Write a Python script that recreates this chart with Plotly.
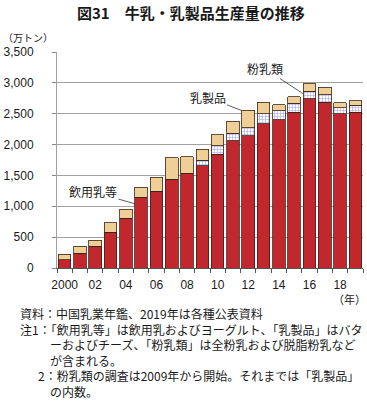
import plotly.graph_objects as go

years = list(range(2000, 2020))
drink = [134, 242, 355, 581, 806, 1150, 1242, 1435, 1532, 1655, 1845, 2065, 2139, 2339, 2403, 2521, 2742, 2688, 2500, 2526]
powder = [0, 0, 0, 0, 0, 0, 0, 0, 0, 92, 135, 122, 135, 161, 145, 150, 123, 123, 97, 108]
products = [92, 113, 97, 150, 146, 161, 231, 355, 274, 177, 181, 194, 279, 188, 97, 103, 119, 118, 80, 76]
tick_years = [2000, 2002, 2004, 2006, 2008, 2010, 2012, 2014, 2016, 2018]
tick_text = ["2000", "02", "04", "06", "08", "10", "12", "14", "16", "18"]
y_ticks = [0, 500, 1000, 1500, 2000, 2500, 3000, 3500]
notes = [
    "資料：中国乳業年鑑、2019年は各種公表資料",
    "注1：「飲用乳等」は飲用乳およびヨーグルト、「乳製品」はバタ",
    "　　\u2002ーおよびチーズ、「粉乳類」は全粉乳および脱脂粉乳など",
    "　　\u2002が含まれる。",
    "　\u20022：粉乳類の調査は2009年から開始。それまでは「乳製品」",
    "　　\u2002の内数。",
]

W, H = 367, 401
L, R, T, B = 53, 4, 52, 133
PW, PH = W - L - R, H - T - B

def px(x):
    return (x - L) / PW

def py(y):
    return (H - B - y) / PH

FONT = "Liberation Sans, Arial, Noto Sans CJK JP, sans-serif"
JFONT = "Noto Sans CJK JP, sans-serif"
TXT = "#1a1a1a"
LINE = dict(color="#3a2418", width=0.8)

fig = go.Figure()
fig.add_bar(x=years, y=drink, name="飲用乳等", marker=dict(color="#c1272d", line=LINE))
fig.add_bar(x=years, y=powder, name="粉乳類",
            marker=dict(color="white", line=LINE,
                        pattern=dict(shape="+", fgcolor="#4b4fc8", bgcolor="white", size=3, solidity=0.35)))
fig.add_bar(x=years, y=products, name="乳製品", marker=dict(color="#efcf96", line=LINE))

fig.update_layout(
    barmode="stack", bargap=0.18, width=W, height=H,
    margin=dict(l=L, r=R, t=T, b=B),
    paper_bgcolor="white", plot_bgcolor="white", showlegend=False,
    font=dict(family=FONT, color=TXT, size=12),
)
fig.update_xaxes(
    range=[1999.5, 2019.5], tickvals=tick_years, ticktext=tick_text, ticks="",
    tickfont=dict(size=12, family=FONT, color=TXT), showgrid=False,
    showline=True, linecolor="#555555", linewidth=1, ticklabelstandoff=6,
    minor=dict(tickvals=[y + 0.5 for y in range(1999, 2020)], ticks="outside", ticklen=4, tickcolor="#555555", showgrid=False),
)
fig.update_yaxes(
    range=[0, 3500], tickvals=y_ticks, tickformat=",", ticks="outside", ticklen=4, tickcolor="#888888",
    tickfont=dict(size=12, family=FONT, color=TXT), ticklabelstandoff=16,
    showgrid=True, gridcolor="#a0a0a0", gridwidth=1, zeroline=False,
    showline=True, linecolor="#a0a0a0", linewidth=1,
)

ann = []
def text(x, y, s, size=12, anchor="left", bold=False, font=JFONT):
    ann.append(dict(xref="paper", yref="paper", x=px(x), y=py(y), text=("<b>%s</b>" % s) if bold else s,
                    showarrow=False, xanchor=anchor, yanchor="middle", align="left",
                    font=dict(size=size, family=font, color=TXT)))

text(189, 13, "図31　牛乳・乳製品生産量の推移", size=15, anchor="center", bold=True)
text(-4, 38, "（万トン）", size=10)
text(368, 299, "（年）", size=11, anchor="right")
text(13, 352, "<br>".join(notes))

def label(s, xd, yd, ax, ay):
    ann.append(dict(x=xd, y=yd, xref="x", yref="y", text=s, showarrow=True, arrowhead=0,
                    arrowwidth=0.8, arrowcolor="#333333", ax=ax, ay=ay,
                    font=dict(size=12, family=JFONT, color=TXT)))

label("飲用乳等", 2004.6, 1040, -42, -12)
label("乳製品", 2011.56, 2553, -34, -13)
label("粉乳類", 2015.56, 2827, -38, -25)

fig.update_layout(annotations=ann)
fig.write_html("out.html", config={"displayModeBar": False},
               post_script="document.body.style.margin='0';document.body.style.overflow='hidden';")
